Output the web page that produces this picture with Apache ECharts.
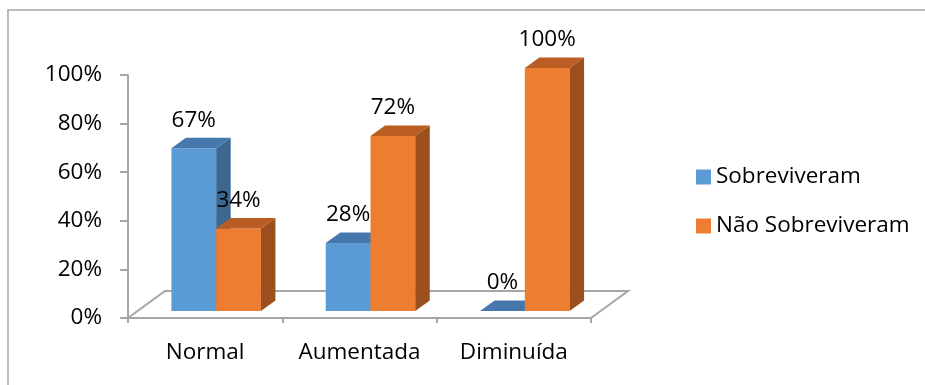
<!DOCTYPE html>
<html>
<head>
<meta charset="utf-8">
<script src="https://cdn.jsdelivr.net/npm/echarts@6/dist/echarts.min.js"></script>
<style>
  html, body { margin: 0; padding: 0; background: #fff; }
  #chart { width: 925px; height: 385px; }
</style>
</head>
<body>
<div id="chart"></div>
<script>
// Survival by category (percent of patients)
const categories = ['Normal', 'Aumentada', 'Diminuída'];
const sobreviveram = [67, 28, 0];
const naoSobreviveram = [34, 72, 100];
const yTicks = [0, 20, 40, 60, 80, 100];

const FONT = '"Open Sans", "Noto Sans", sans-serif';
const FONT_SIZE = 22.5;
const GRAY = '#A6A6A6';

// Face colours for the pseudo-3D columns: front, top, side
const BLUE = { front: '#5B9BD5', top: '#4677AD', side: '#3D6691' };
const ORANGE = { front: '#ED7D31', top: '#BA5D22', side: '#9B4F1E' };

// Geometry of the 3D look
const FLOOR_DEPTH = [37, -27];   // floor back edge offset
const BAR_PLANE = [11, -7];      // columns stand slightly inside the floor
const BAR_DEPTH = [14.5, -10.5]; // column thickness
const BAR_FRACTION = 0.29;       // column width as share of category band

function makeColumn(slot, faces) {
  return function (params, api) {
    const cat = api.value(0);
    const val = api.value(1);
    const base = api.coord([cat, 0]);
    const top = api.coord([cat, val]);
    const band = api.size([1, 0])[0];
    const w = band * BAR_FRACTION;
    const cx = base[0] + BAR_PLANE[0];
    const x0 = slot === 0 ? cx - w : cx;
    const x1 = x0 + w;
    const yb = base[1] + BAR_PLANE[1];
    const yt = top[1] + BAR_PLANE[1];
    const dx = BAR_DEPTH[0], dy = BAR_DEPTH[1];
    const children = [];
    if (yb - yt > 0.5) {
      children.push({
        type: 'rect',
        shape: { x: x0, y: yt, width: w, height: yb - yt },
        style: { fill: faces.front }
      });
      children.push({
        type: 'polygon',
        shape: { points: [[x1, yb], [x1, yt], [x1 + dx, yt + dy], [x1 + dx, yb + dy]] },
        style: { fill: faces.side }
      });
    }
    children.push({
      type: 'polygon',
      shape: { points: [[x0, yt], [x1, yt], [x1 + dx, yt + dy], [x0 + dx, yt + dy]] },
      style: { fill: faces.top }
    });
    children.push({
      type: 'text',
      z2: 100,
      style: {
        x: x0 + w / 2,
        y: yt - 28,
        text: val + '%',
        fill: '#000',
        font: FONT_SIZE + 'px ' + FONT,
        align: 'center',
        verticalAlign: 'middle'
      }
    });
    return { type: 'group', children: children };
  };
}

function renderFloor(params, api) {
  const cs = params.coordSys;
  const yf = cs.y + cs.height;
  const xl = cs.x, xr = cs.x + cs.width;
  const [dx, dy] = FLOOR_DEPTH;
  return {
    type: 'polyline',
    shape: { points: [[xl, yf], [xl + dx, yf + dy], [xr + dx, yf + dy], [xr, yf]] },
    style: { stroke: GRAY, lineWidth: 2, fill: null }
  };
}

const chart = echarts.init(document.getElementById('chart'), null, { renderer: 'canvas' });

chart.setOption({
  animation: false,
  backgroundColor: '#fff',
  textStyle: { fontFamily: FONT },
  graphic: [{
    type: 'rect',
    shape: { x: 8, y: 10, width: 1000, height: 1000 },
    style: { stroke: GRAY, lineWidth: 1.5, fill: null },
    silent: true
  }],
  grid: { left: 128, right: 334, top: 75, bottom: 67 },
  legend: {
    orient: 'vertical',
    left: 691,
    top: 160,
    itemWidth: 15,
    itemHeight: 15,
    itemGap: 25,
    icon: 'rect',
    data: ['Sobreviveram', 'Não Sobreviveram'],
    textStyle: { fontFamily: FONT, fontSize: FONT_SIZE, color: '#000', lineHeight: 24 }
  },
  xAxis: {
    type: 'category',
    data: categories,
    axisLine: { lineStyle: { color: GRAY, width: 2 } },
    axisTick: { show: true, length: 5, lineStyle: { color: GRAY, width: 2 } },
    axisLabel: { interval: 0, margin: 23, fontSize: FONT_SIZE, color: '#000', fontFamily: FONT },
    splitLine: { show: false }
  },
  yAxis: {
    type: 'value',
    min: yTicks[0],
    max: yTicks[yTicks.length - 1],
    interval: yTicks[1] - yTicks[0],
    axisLine: { show: true, lineStyle: { color: GRAY, width: 2 } },
    axisTick: { show: true, length: 8, lineStyle: { color: GRAY, width: 2 } },
    axisLabel: { margin: 26, fontSize: FONT_SIZE, color: '#000', fontFamily: FONT, formatter: '{value}%' },
    splitLine: { show: false }
  },
  series: [
    {
      name: 'floor',
      type: 'custom',
      renderItem: renderFloor,
      data: [[0, 0]],
      silent: true,
      z: 1
    },
    {
      name: 'Sobreviveram',
      type: 'custom',
      renderItem: makeColumn(0, BLUE),
      itemStyle: { color: BLUE.front },
      data: categories.map((c, i) => [i, sobreviveram[i]]),
      z: 2
    },
    {
      name: 'Não Sobreviveram',
      type: 'custom',
      renderItem: makeColumn(1, ORANGE),
      itemStyle: { color: ORANGE.front },
      data: categories.map((c, i) => [i, naoSobreviveram[i]]),
      z: 3
    }
  ]
});
</script>
</body>
</html>
